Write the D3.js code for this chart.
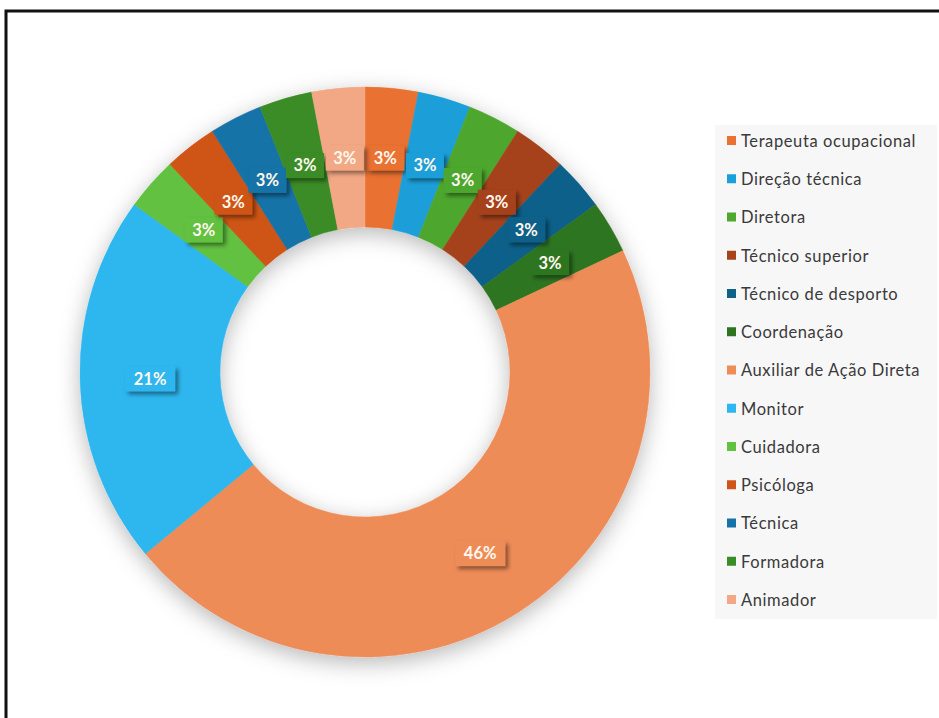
<!DOCTYPE html>
<html>
<head>
<meta charset="utf-8">
<script src="https://cdn.jsdelivr.net/npm/d3@7"></script>
<style>
  html, body { margin: 0; padding: 0; background: #fff; }
  svg { display: block; }
</style>
</head>
<body>
<svg id="chart" width="939" height="718"></svg>
<script>
// Staff roles and their share of the total (percent)
const categories = [
  "Terapeuta ocupacional", "Direção técnica", "Diretora", "Técnico superior",
  "Técnico de desporto", "Coordenação", "Auxiliar de Ação Direta", "Monitor",
  "Cuidadora", "Psicóloga", "Técnica", "Formadora", "Animador"
];
const shares = [3, 3, 3, 3, 3, 3, 46, 21, 3, 3, 3, 3, 3];
const colors = [
  "#E97132", "#1A9FD9", "#4EA72E", "#A5431A",
  "#0F6189", "#2E7420", "#EE8C58", "#2EB6EE",
  "#62C13F", "#CF5419", "#1673A7", "#3A8C27", "#F2A884"
];

const svg = d3.select("#chart");
const W = 939, H = 718;
const cx = 365, cy = 372, rOuter = 285, rInner = 145;

const defs = svg.append("defs");
const ringShadow = defs.append("filter").attr("id", "ringShadow")
  .attr("x", "-30%").attr("y", "-30%").attr("width", "160%").attr("height", "160%");
ringShadow.append("feDropShadow")
  .attr("dx", 0).attr("dy", 6).attr("stdDeviation", 11)
  .attr("flood-color", "#000").attr("flood-opacity", 0.28);

const boxShadow = defs.append("filter").attr("id", "boxShadow")
  .attr("x", "-40%").attr("y", "-40%").attr("width", "180%").attr("height", "180%");
boxShadow.append("feDropShadow")
  .attr("dx", 3).attr("dy", 3).attr("stdDeviation", 2)
  .attr("flood-color", "#000").attr("flood-opacity", 0.45);

// Frame
svg.append("path")
  .attr("d", `M6,${H + 5} L6,11 L${W + 5},11`)
  .attr("fill", "none").attr("stroke", "#111").attr("stroke-width", 3);

const data = categories.map((c, i) => ({ name: c, value: shares[i], color: colors[i] }));

const pie = d3.pie().value(d => d.value).sort(null);
const arcs = pie(data);
const arc = d3.arc().innerRadius(rInner).outerRadius(rOuter);
const labelArc = d3.arc().innerRadius((rInner + rOuter) / 2).outerRadius((rInner + rOuter) / 2);

const g = svg.append("g").attr("transform", `translate(${cx},${cy})`);
g.append("g").attr("filter", "url(#ringShadow)")
  .selectAll("path").data(arcs).join("path")
  .attr("d", arc)
  .attr("fill", d => d.data.color)
  .attr("stroke", d => d.data.color).attr("stroke-width", 0.5);

// Data labels: boxes filled with the slice colour
const fmt = v => v + "%";
const lbl = g.append("g").selectAll("g").data(arcs).join("g")
  .attr("transform", d => `translate(${labelArc.centroid(d)})`);
lbl.append("rect")
  .attr("x", d => fmt(d.data.value).length > 2 ? -25 : -19)
  .attr("y", -12.5)
  .attr("width", d => fmt(d.data.value).length > 2 ? 50 : 38)
  .attr("height", 25)
  .attr("fill", d => d.data.color)
  .attr("filter", "url(#boxShadow)");
lbl.append("text")
  .attr("text-anchor", "middle").attr("dy", "0.36em")
  .attr("font-family", "Lato, 'Open Sans', sans-serif")
  .attr("font-weight", "bold").attr("font-size", 16.5)
  .attr("fill", "#FFF8EE")
  .text(d => fmt(d.data.value));

// Legend
const lx = 715, ly = 125, lw = 222, lh = 494;
svg.append("rect").attr("x", lx).attr("y", ly).attr("width", lw).attr("height", lh)
  .attr("fill", "#F7F7F7");
const step = 38.25;
const leg = svg.append("g").selectAll("g").data(data).join("g")
  .attr("transform", (d, i) => `translate(${lx + 12},${141 + i * step})`);
leg.append("rect").attr("x", 0).attr("y", -5).attr("width", 9).attr("height", 9)
  .attr("fill", d => d.color);
leg.append("text").attr("x", 14).attr("dy", "0.35em")
  .attr("font-family", "Lato, 'Open Sans', sans-serif")
  .attr("font-size", 16.5).attr("fill", "#3A3A3A")
  .attr("letter-spacing", 0.6)
  .text(d => d.name);
</script>
</body>
</html>
